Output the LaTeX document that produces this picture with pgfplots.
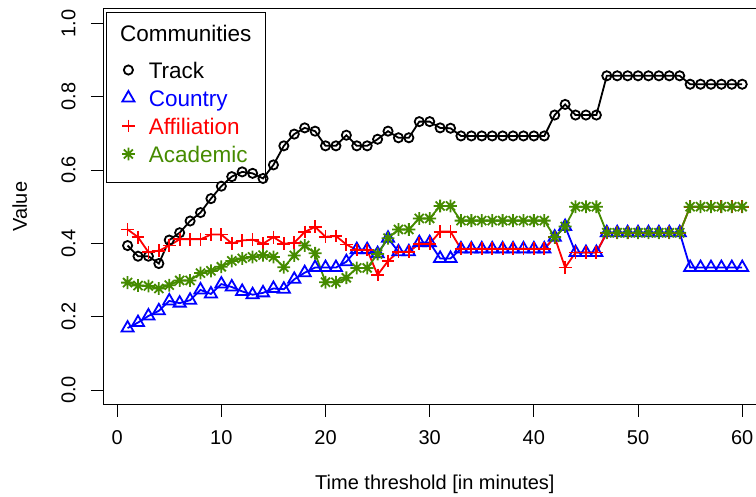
\documentclass[border=0pt]{standalone}
\usepackage{fontspec}
\setmainfont{Liberation Sans}
\usepackage{pgfplots}
\usepackage{pgfplotstable}
\pgfplotsset{compat=1.18}

\definecolor{rgreen}{RGB}{69,139,0}
\tikzset{lent/.style={inner sep=0pt, text height=17bp, text depth=5bp}}

% R style asterisk (pch 8): plus and cross with equal arms
\pgfdeclareplotmark{rast}{%
  \pgfpathmoveto{\pgfqpoint{-\pgfplotmarksize}{0pt}}%
  \pgfpathlineto{\pgfqpoint{\pgfplotmarksize}{0pt}}%
  \pgfpathmoveto{\pgfqpoint{0pt}{-\pgfplotmarksize}}%
  \pgfpathlineto{\pgfqpoint{0pt}{\pgfplotmarksize}}%
  \pgfpathmoveto{\pgfqpoint{-0.7071\pgfplotmarksize}{-0.7071\pgfplotmarksize}}%
  \pgfpathlineto{\pgfqpoint{0.7071\pgfplotmarksize}{0.7071\pgfplotmarksize}}%
  \pgfpathmoveto{\pgfqpoint{-0.7071\pgfplotmarksize}{0.7071\pgfplotmarksize}}%
  \pgfpathlineto{\pgfqpoint{0.7071\pgfplotmarksize}{-0.7071\pgfplotmarksize}}%
  \pgfusepathqstroke}

\pgfplotstableread{
t  track country affil acad
1  0.394 0.169 0.438 0.293
2  0.365 0.184 0.417 0.285
3  0.365 0.202 0.376 0.284
4  0.345 0.216 0.380 0.277
5  0.409 0.243 0.394 0.286
6  0.429 0.237 0.411 0.299
7  0.461 0.245 0.411 0.299
8  0.484 0.273 0.411 0.319
9  0.522 0.262 0.424 0.325
10 0.556 0.289 0.424 0.336
11 0.582 0.281 0.400 0.352
12 0.595 0.269 0.408 0.359
13 0.591 0.260 0.410 0.363
14 0.577 0.265 0.399 0.368
15 0.614 0.277 0.417 0.363
16 0.666 0.275 0.399 0.335
17 0.698 0.302 0.402 0.367
18 0.715 0.320 0.431 0.394
19 0.706 0.334 0.445 0.373
20 0.666 0.334 0.418 0.294
21 0.666 0.334 0.420 0.294
22 0.695 0.350 0.397 0.306
23 0.666 0.383 0.382 0.333
24 0.666 0.383 0.382 0.333
25 0.684 0.372 0.314 0.371
26 0.706 0.414 0.352 0.414
27 0.688 0.377 0.377 0.438
28 0.688 0.377 0.377 0.438
29 0.732 0.402 0.399 0.468
30 0.732 0.402 0.399 0.468
31 0.715 0.359 0.432 0.502
32 0.714 0.359 0.432 0.502
33 0.693 0.385 0.385 0.462
34 0.693 0.385 0.385 0.462
35 0.693 0.385 0.385 0.462
36 0.693 0.385 0.385 0.462
37 0.693 0.385 0.385 0.462
38 0.693 0.385 0.385 0.462
39 0.693 0.385 0.385 0.462
40 0.693 0.385 0.385 0.462
41 0.693 0.385 0.385 0.462
42 0.750 0.417 0.417 0.417
43 0.779 0.446 0.334 0.446
44 0.750 0.375 0.375 0.500
45 0.750 0.375 0.375 0.500
46 0.750 0.375 0.375 0.500
47 0.857 0.429 0.429 0.429
48 0.857 0.429 0.429 0.429
49 0.857 0.429 0.429 0.429
50 0.857 0.429 0.429 0.429
51 0.857 0.429 0.429 0.429
52 0.857 0.429 0.429 0.429
53 0.857 0.429 0.429 0.429
54 0.857 0.429 0.429 0.429
55 0.834 0.334 0.500 0.500
56 0.834 0.334 0.500 0.500
57 0.834 0.334 0.500 0.500
58 0.834 0.334 0.500 0.500
59 0.834 0.334 0.500 0.500
60 0.834 0.334 0.500 0.500
}\datatable

\begin{document}
\begin{tikzpicture}
  \begin{axis}[
    at={(103bp,-404.7bp)}, anchor=south west,
    scale only axis, width=663.8bp, height=396bp,
    xmin=-1.36, xmax=62.36, ymin=-0.04, ymax=1.04,
    axis line style={line width=1bp},
    xtick={0,10,...,60}, ytick={0,0.2,0.4,0.6,0.8,1},
    tick align=outside, tick pos=left, major tick length=12bp,
    every tick/.style={black, line width=1bp},
    /pgf/number format/assume math mode=true,
    ticklabel style={font=\fontsize{20bp}{24bp}\selectfont},
    xticklabel style={anchor=base, inner sep=0pt},
    yticklabel style={/pgf/number format/fixed, /pgf/number format/fixed zerofill,
      /pgf/number format/precision=1, rotate=90, anchor=base, inner sep=0pt},
    xticklabel shift=27.3bp, yticklabel shift=15.5bp,
    label style={font=\fontsize{20bp}{24bp}\selectfont},
    xlabel={Time threshold [in minutes]},
    ylabel={Value},
    xlabel style={at={(axis description cs:0.5,-0.2129)}, anchor=base, inner sep=0pt},
    ylabel style={at={(axis description cs:-0.1145,0.5)}, anchor=base, inner sep=0pt},
    legend cell align=left,
    legend style={at={(axis description cs:0.02862,0.88308)}, anchor=north west,
      draw=none, fill=none, inner sep=0pt, outer sep=0pt,
      row sep=0pt, column sep=14bp,
      font=\fontsize{22.5bp}{27bp}\selectfont},
    legend image code/.code={%
      \path[draw=none, fill=none] (0bp,-5bp) rectangle (12bp,17bp);
      \draw[#1, only marks] plot coordinates {(6bp,2bp)};},
  ]
    \addplot[black, line width=1.8bp, mark=o, mark size=4.6bp]
      table[x=t, y=track] {\datatable};
    \addlegendentry[lent]{Track}
    \addplot[blue, line width=1.8bp, mark=triangle, mark size=7bp]
      table[x=t, y=country] {\datatable};
    \addlegendentry[lent, text=blue]{Country}
    \addplot[red, line width=1.8bp, mark=+, mark size=6.4bp]
      table[x=t, y=affil] {\datatable};
    \addlegendentry[lent, text=red]{Affiliation}
    \addplot[rgreen, line width=1.8bp, mark=rast, mark size=6.4bp]
      table[x=t, y=acad] {\datatable};
    \addlegendentry[lent, text=rgreen]{Academic}
  \end{axis}
  % legend frame and title
  \draw[line width=1bp] (106.5bp,-12.7bp) rectangle (265bp,-182.7bp);
  \node[anchor=base, inner sep=0pt, font=\fontsize{22.5bp}{27bp}\selectfont]
    at (185.7bp,-41.7bp) {Communities};
  \pgfresetboundingbox
  \path[use as bounding box] (0bp,0bp) rectangle (756bp,-497bp);
\end{tikzpicture}
\end{document}
